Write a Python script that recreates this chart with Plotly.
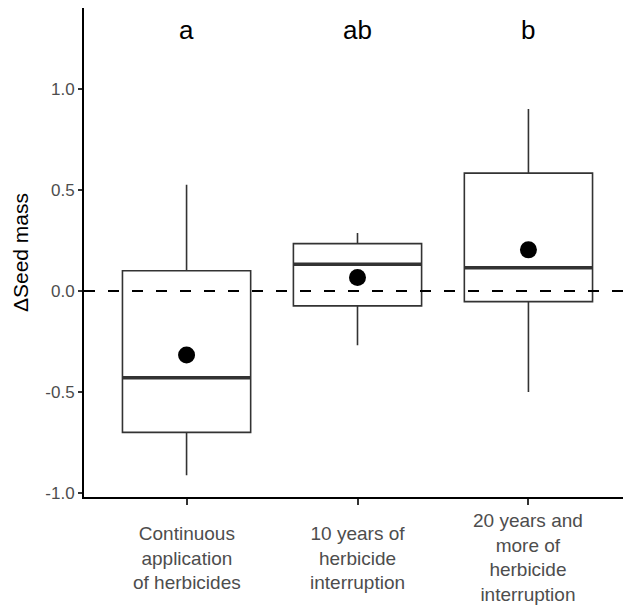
import plotly.graph_objects as go

# ---- data ----
categories = ["Continuous", "10 years", "20 years"]
category_labels = [
    "Continuous<br>application<br>of herbicides",
    "10 years of<br>herbicide<br>interruption",
    "20 years and<br>more of<br>herbicide<br>interruption",
]
q1 = [-0.700, -0.074, -0.053]
median = [-0.430, 0.132, 0.115]
q3 = [0.100, 0.234, 0.583]
lower_whisker = [-0.912, -0.269, -0.500]
upper_whisker = [0.525, 0.286, 0.900]
means = [-0.317, 0.066, 0.203]
letters = ["a", "ab", "b"]
y_ticks = [-1.0, -0.5, 0.0, 0.5, 1.0]
y_tick_text = ["-1.0", "-0.5", "0.0", "0.5", "1.0"]

BOX_LINE = "#333333"
TICK_TXT = "#4d4d4d"
FONT = "Liberation Sans, Arial, sans-serif"

fig = go.Figure()

fig.add_trace(go.Box(
    x=categories, q1=q1, median=median, q3=q3,
    lowerfence=lower_whisker, upperfence=upper_whisker,
    width=0.75, whiskerwidth=0, boxpoints=False,
    fillcolor="white", line=dict(color=BOX_LINE, width=1.6),
    showlegend=False, hoverinfo="skip",
))
# thick median bar (degenerate box at the median)
fig.add_trace(go.Box(
    x=categories, q1=median, median=median, q3=median,
    lowerfence=median, upperfence=median,
    width=0.75, whiskerwidth=0, boxpoints=False,
    fillcolor="rgba(0,0,0,0)", line=dict(color=BOX_LINE, width=3.5),
    showlegend=False, hoverinfo="skip",
))
fig.add_trace(go.Scatter(
    x=categories, y=means, mode="markers",
    marker=dict(color="black", size=17),
    showlegend=False, hoverinfo="skip",
))

fig.add_shape(type="line", xref="paper", x0=0, x1=1, yref="y", y0=0, y1=0,
              line=dict(color="black", width=2, dash="11px,13px"), layer="above")

for c, t in zip(categories, letters):
    fig.add_annotation(x=c, y=1.292, xref="x", yref="y", text=t, showarrow=False,
                       font=dict(family=FONT, size=26, color="black"),
                       xanchor="center", yanchor="middle")

for c, t in zip(categories, category_labels):
    fig.add_annotation(x=c, y=-0.124, xref="x", yref="paper", text=t, showarrow=False,
                       font=dict(family=FONT, size=19, color=TICK_TXT),
                       xanchor="center", yanchor="middle", align="center")

fig.update_layout(
    width=623, height=598,
    margin=dict(l=76, r=0, t=0, b=109, autoexpand=False),
    paper_bgcolor="white", plot_bgcolor="white",
    boxmode="overlay",
    font=dict(family=FONT),
    xaxis=dict(
        type="category", categoryarray=categories, range=[-0.6, 2.6],
        showgrid=False, zeroline=False, showline=True, linecolor="black", linewidth=2,
        ticks="outside", ticklen=6, tickwidth=1.5, tickcolor=BOX_LINE,
        showticklabels=False, automargin=False,
    ),
    yaxis=dict(
        range=[-1.02, 1.40], tickvals=y_ticks, ticktext=y_tick_text,
        showgrid=False, zeroline=False, showline=True, linecolor="black", linewidth=2,
        ticks="outside", ticklen=4, tickwidth=1.5, tickcolor=BOX_LINE,
        tickfont=dict(family=FONT, size=17, color=TICK_TXT),
        automargin=False,
        title=dict(text="ΔSeed mass", font=dict(family=FONT, size=21, color="black"), standoff=11),
    ),
)

fig.write_html("out.html")
